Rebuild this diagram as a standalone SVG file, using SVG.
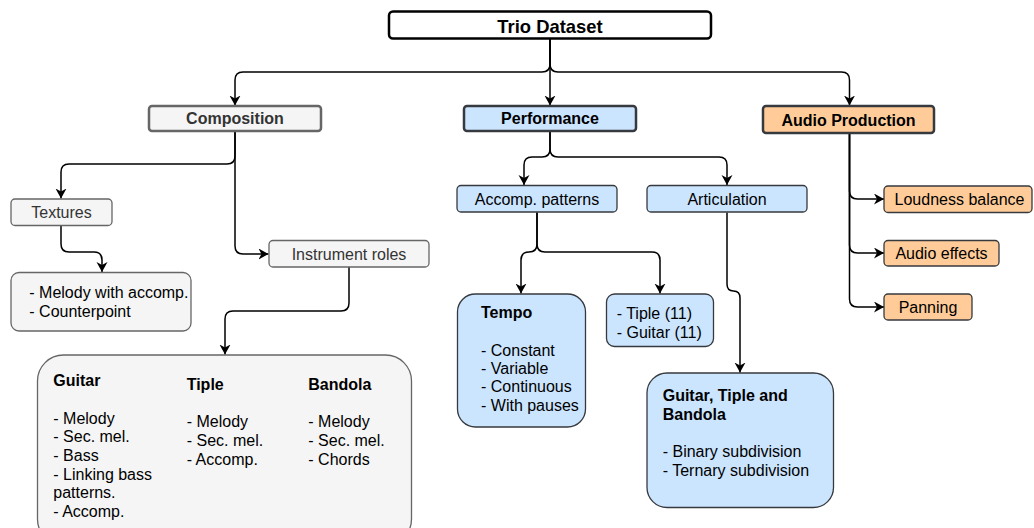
<svg xmlns="http://www.w3.org/2000/svg" width="1034" height="528" viewBox="0 0 1034 528">
<defs>
<marker id="arr" markerUnits="userSpaceOnUse" markerWidth="12" markerHeight="12" refX="10" refY="5.5" orient="auto">
<path d="M0,0 L10,5.5 L0,11 L3,5.5 z" fill="#000"/>
</marker>
<style>
text{font-family:"Liberation Sans",Arial,sans-serif;font-size:16px;fill:#000}
.b{font-weight:bold}
.c{text-anchor:middle}
.g333{fill:#333}
.grey{fill:#f5f5f5;stroke:#666;stroke-width:1.3}
.blue{fill:#cce5ff;stroke:#36393d;stroke-width:1.3}
.orange{fill:#ffcc99;stroke:#36393d;stroke-width:1.3}
.thick{stroke-width:2.5}
.conn path{fill:none;stroke:#000;stroke-width:1.5;marker-end:url(#arr)}
</style>
</defs>
<rect width="1034" height="528" fill="#fff"/>
<g class="conn">
<path d="M550 38.5 V64 Q550 72 542 72 H243 Q235 72 235 80 V105.5"/>
<path d="M550 38.5 V105.5"/>
<path d="M550 38.5 V64 Q550 72 558 72 H841.5 Q849.5 72 849.5 80 V105.5"/>
<path d="M550 131 V149 Q550 157 542 157 H532 Q524 157 524 165 V185"/>
<path d="M550 131 V149 Q550 157 558 157 H719 Q727 157 727 165 V185"/>
<path d="M849.5 133.5 V191 Q849.5 199 857.5 199 H884"/>
<path d="M849.5 133.5 V245 Q849.5 253 857.5 253 H884"/>
<path d="M849.5 133.5 V299 Q849.5 307 857.5 307 H884"/>
<path d="M235 131 V156 Q235 164 227 164 H69 Q61 164 61 172 V198.5"/>
<path d="M235 131 V246 Q235 254 243 254 H268.5"/>
<path d="M61 226 V244 Q61 252 69 252 H94 Q102 252 102 260 V272"/>
<path d="M349 267 V303 Q349 311 341 311 H233 Q225 311 225 319 V354.5"/>
<path d="M537 212.5 V244 Q537 252 529 252 Q521 252 521 260 V293.5"/>
<path d="M537 212.5 V244 Q537 252 545 252 H652 Q660 252 660 260 V293.5"/>
<path d="M727 212.5 V284 Q727 291 733.5 291 Q740 291 740 298 V372.5"/>
</g>
<g id="trio">
<rect x="389" y="11.5" width="322" height="27" rx="4" fill="#fff" stroke="#000" stroke-width="2.5"/>
<text x="550" y="33" class="b c" style="font-size:18.4px">Trio Dataset</text>
</g>
<g id="composition">
<rect x="149" y="106" width="172" height="25" rx="3" class="grey thick"/>
<text x="235" y="123.8" class="b c g333">Composition</text>
</g>
<g id="performance">
<rect x="464" y="106" width="172" height="25" rx="3" class="blue thick"/>
<text x="550" y="123.8" class="b c">Performance</text>
</g>
<g id="audio">
<rect x="763" y="106" width="171" height="27" rx="3" class="orange thick"/>
<text x="848.5" y="126.2" class="b c">Audio Production</text>
</g>
<g id="textures">
<rect x="11" y="199" width="101" height="26.5" rx="4" class="grey"/>
<text x="61.5" y="218.2" class="c g333">Textures</text>
</g>
<g id="texture-list">
<rect x="11" y="272.5" width="180" height="58.5" rx="8" class="grey"/>
<text x="29.3" y="298.2">- Melody with accomp.</text>
<text x="29.3" y="317.2">- Counterpoint</text>
</g>
<g id="instrument-roles">
<rect x="269" y="240.5" width="160" height="26.5" rx="4" class="grey"/>
<text x="349" y="259.8" class="c g333">Instrument roles</text>
</g>
<g id="roles-list">
<rect x="37.5" y="355" width="374" height="190" rx="26" class="grey"/>
<text x="53.3" y="385.5" class="b">Guitar</text>
<text x="53.3" y="423.8">- Melody</text>
<text x="53.3" y="442.2">- Sec. mel.</text>
<text x="53.3" y="460.8">- Bass</text>
<text x="53.3" y="479.6">- Linking bass</text>
<text x="53.3" y="498.2">patterns.</text>
<text x="53.3" y="517.2">- Accomp.</text>
<text x="186.7" y="389.5" class="b">Tiple</text>
<text x="186.7" y="427.2">- Melody</text>
<text x="186.7" y="445.7">- Sec. mel.</text>
<text x="186.7" y="464.5">- Accomp.</text>
<text x="308.3" y="389.5" class="b">Bandola</text>
<text x="308.3" y="427.2">- Melody</text>
<text x="308.3" y="445.7">- Sec. mel.</text>
<text x="308.3" y="464.5">- Chords</text>
</g>
<g id="accomp-patterns">
<rect x="457" y="185.5" width="160" height="26.5" rx="4" class="blue"/>
<text x="537" y="204.8" class="c">Accomp. patterns</text>
</g>
<g id="articulation">
<rect x="647" y="185.5" width="160" height="26.5" rx="4" class="blue"/>
<text x="727" y="204.8" class="c">Articulation</text>
</g>
<g id="tempo">
<rect x="457.5" y="294" width="128" height="133" rx="18" class="blue"/>
<text x="481" y="317.8" class="b">Tempo</text>
<text x="481" y="355.5">- Constant</text>
<text x="481" y="373.8">- Variable</text>
<text x="481" y="392.2">- Continuous</text>
<text x="481" y="411.2">- With pauses</text>
</g>
<g id="tiple-guitar">
<rect x="606.5" y="294" width="107" height="52.5" rx="8" class="blue"/>
<text x="616.7" y="318.8">- Tiple (11)</text>
<text x="616.7" y="337.8">- Guitar (11)</text>
</g>
<g id="gtb">
<rect x="647" y="373" width="186.5" height="134.5" rx="20" class="blue"/>
<text x="662.7" y="400.5" class="b">Guitar, Tiple and</text>
<text x="662.7" y="419.5" class="b">Bandola</text>
<text x="662.7" y="456.5">- Binary subdivision</text>
<text x="662.7" y="475.5">- Ternary subdivision</text>
</g>
<g id="loudness">
<rect x="884" y="186" width="148" height="26.5" rx="4" class="orange"/>
<text x="959.5" y="204.8" class="c">Loudness balance</text>
</g>
<g id="effects">
<rect x="884" y="240.5" width="115" height="25.5" rx="4" class="orange"/>
<text x="941.5" y="258.8" class="c">Audio effects</text>
</g>
<g id="panning">
<rect x="884" y="294" width="88" height="26" rx="4" class="orange"/>
<text x="928" y="312.8" class="c">Panning</text>
</g>
</svg>
